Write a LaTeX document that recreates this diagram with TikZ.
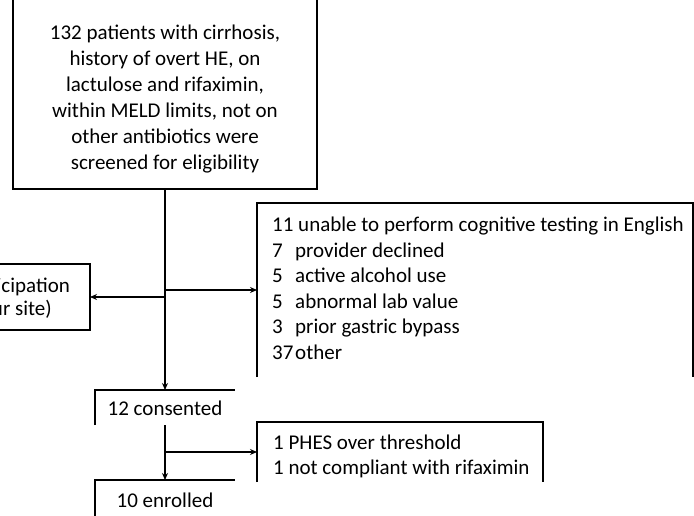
\documentclass[tikz,border=0pt]{standalone}
\usepackage{fontspec}
\setmainfont{Carlito}
\usetikzlibrary{arrows.meta}
\newcommand\numcol[1]{\makebox[23pt][l]{#1}}
\begin{document}
\begin{tikzpicture}[x=1pt,y=-1pt,
  edge/.style={line width=1.6pt},
  arr/.style={line width=1.6pt,-{Stealth[length=7pt,width=6pt]}},
  box/.style={inner sep=0pt,outer sep=0pt},
  fullbox/.style={box,draw,line width=1.6pt},
  txt/.style={inner sep=0pt,font=\fontsize{21}{26}\selectfont}]
\useasboundingbox (0,0) rectangle (694,516);

% boxes
\node[fullbox, minimum width=304pt, minimum height=194pt] (screen) at (165,92) {};
\node[fullbox, minimum width=250pt, minimum height=66pt] (declined) at (-35,297) {};
\node[box, minimum width=436pt, minimum height=174pt] (excl) at (475,290) {};
\node[box, minimum width=140pt, minimum height=35pt] (cons) at (165,407.5) {};
\node[box, minimum width=286pt, minimum height=60pt] (phes) at (400,452) {};
\node[box, minimum width=140pt, minimum height=60pt] (enr) at (165,510) {};

\draw[edge] (excl.south west) -- (excl.north west) -- (excl.north east) -- (excl.south east);
\draw[edge] (cons.south west) -- (cons.north west) -- (cons.north east);
\draw[edge] (phes.south west) -- (phes.north west) -- (phes.north east) -- (phes.south east);
\draw[edge] (enr.south west) -- (enr.north west) -- (enr.north east);

% texts
\node[txt, align=center] (screentxt) at (165,99) {132 patients with cirrhosis,\\history of overt HE, on\\lactulose and rifaximin,\\within MELD limits, not on\\other antibiotics were\\screened for eligibility};
\node[txt, align=center, font=\fontsize{21}{23}\selectfont] (decltxt) at (-36,298) {50 declined participation\\(distance to our site)};
\node[txt, anchor=west, align=left, font=\fontsize{21}{25.5}\selectfont] (excltxt) at (272,288.5) {11 unable to perform cognitive testing in English\\\numcol{7}provider declined\\\numcol{5}active alcohol use\\\numcol{5}abnormal lab value\\\numcol{3}prior gastric bypass\\\numcol{37}other};
\node[txt] (constxt) at (165,408) {12 consented};
\node[txt, anchor=west, align=left, font=\fontsize{21}{25}\selectfont] (phestxt) at (273,456) {1 PHES over threshold\\1 not compliant with rifaximin};
\node[txt] (enrtxt) at (165,500) {10 enrolled};

% connectors
\draw[arr] (screen.south) -- (cons.north);
\draw[arr] (screen.south |- excl.west) -- (excl.west);
\draw[arr] (screen.south |- declined.east) -- (declined.east);
\draw[arr] (cons.south) -- (enr.north);
\draw[arr] (cons.south |- phes.west) -- (phes.west);
\end{tikzpicture}
\end{document}
